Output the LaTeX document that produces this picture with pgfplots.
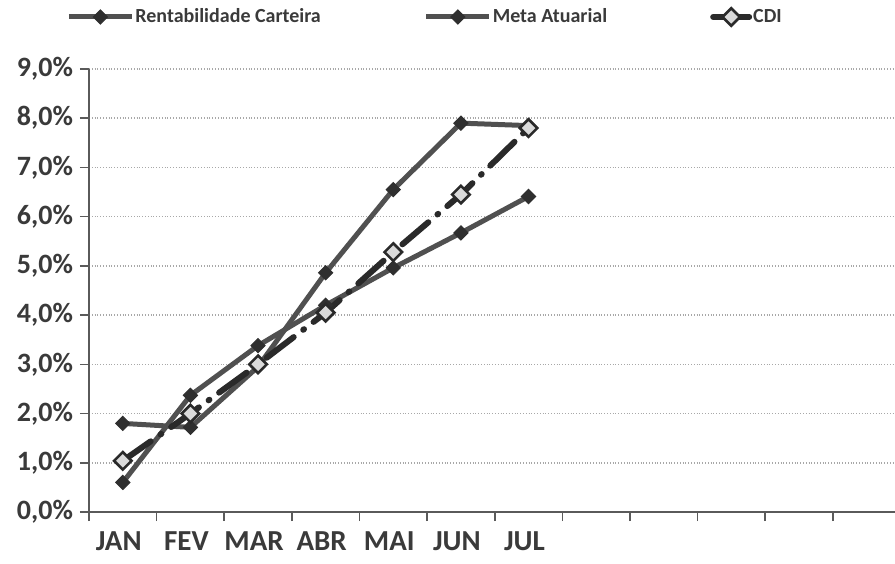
\documentclass[border=0pt]{standalone}
\usepackage{fontspec}
\setmainfont{Carlito}
\usepackage{pgfplots}
\pgfplotsset{compat=1.18}
\definecolor{linegray}{HTML}{505050}
\definecolor{markgray}{HTML}{2F2F2F}
\definecolor{cdiline}{HTML}{2A2A2A}
\definecolor{cdifill}{HTML}{DADADA}
\definecolor{textgray}{HTML}{3A3A3A}
\definecolor{axisgray}{HTML}{5A5A5A}
\definecolor{gridgray}{HTML}{A8A8A8}
\pgfplotsset{
  longleg/.style={legend image code/.code={\draw[##1, solid, mark repeat=2, mark phase=2] plot coordinates {(0pt,0pt) (15.75pt,0pt) (31.5pt,0pt)};}},
  shortleg/.style={legend image code/.code={\draw[##1, solid, mark repeat=2, mark phase=2] plot coordinates {(0pt,0pt) (9pt,0pt) (18pt,0pt)};}},
}
\begin{document}
\begin{tikzpicture}
\begin{axis}[
  scale only axis, width=403pt, height=221.5pt,
  xmin=-0.5, xmax=11.42, ymin=0, ymax=9,
  axis x line*=bottom, axis y line*=left,
  axis line style={-, draw=axisgray, line width=1pt},
  tick align=outside, major tick length=4.5pt,
  tick style={draw=axisgray, line width=0.8pt},
  xtick={-0.5,0.5,...,10.5}, xticklabels={},
  extra x ticks={0,1,2,3,4,5,6},
  extra x tick labels={JAN,FEV,MAR,ABR,MAI,JUN,JUL},
  extra x tick style={major tick length=0pt, grid=none,
    tick label style={font=\fontsize{14.5}{17}\selectfont\bfseries, text=textgray, yshift=-6.5pt, xshift=-2pt}},
  ytick={0,1,...,9},
  ymajorgrids, grid style={densely dotted, draw=gridgray, line width=0.8pt},
  /pgf/number format/assume math mode=true,
  yticklabel={\pgfmathprintnumber[fixed,fixed zerofill,precision=1,use comma]{\tick}\%},
  y tick label style={font=\fontsize{14}{16}\selectfont\bfseries, text=textgray},
  legend columns=3,
  legend style={at={(axis description cs:-0.0285,1.1174)}, anchor=west, draw=none, fill=none,
    inner sep=0pt, font=\fontsize{10}{12}\selectfont\bfseries, text=textgray,
    nodes={inner xsep=0.5pt},
    /tikz/every even column/.append style={column sep=51pt}},
  legend cell align=left,
]
\addplot[linegray, line width=2.5pt, mark=square*, mark size=2.5pt,
  mark options={rotate=45, fill=markgray, draw=markgray, line width=0.5pt, solid}, longleg]
  coordinates {(0,0.60) (1,2.37) (2,3.38) (3,4.20) (4,4.96) (5,5.67) (6,6.41)};
\addlegendentry{Rentabilidade Carteira}
\addplot[linegray, line width=2.5pt, mark=square*, mark size=2.5pt,
  mark options={rotate=45, fill=markgray, draw=markgray, line width=0.5pt, solid}, longleg]
  coordinates {(0,1.80) (1,1.72) (2,2.95) (3,4.86) (4,6.55) (5,7.90) (6,7.85)};
\addlegendentry{Meta Atuarial}
\addplot[cdiline, line width=3pt, line cap=round, dash pattern=on 17pt off 6pt on 0.5pt off 6pt,
  mark=square*, mark size=3.1pt,
  mark options={rotate=45, fill=cdifill, draw=cdiline, line width=1.3pt, solid}, shortleg]
  coordinates {(0,1.04) (1,2.00) (2,3.00) (3,4.05) (4,5.28) (5,6.45) (6,7.80)};
\addlegendentry{CDI}
\end{axis}
\pgfresetboundingbox
\path[use as bounding box] (-44.5pt,-25.5pt) rectangle (403pt,256pt);
\end{tikzpicture}
\end{document}
